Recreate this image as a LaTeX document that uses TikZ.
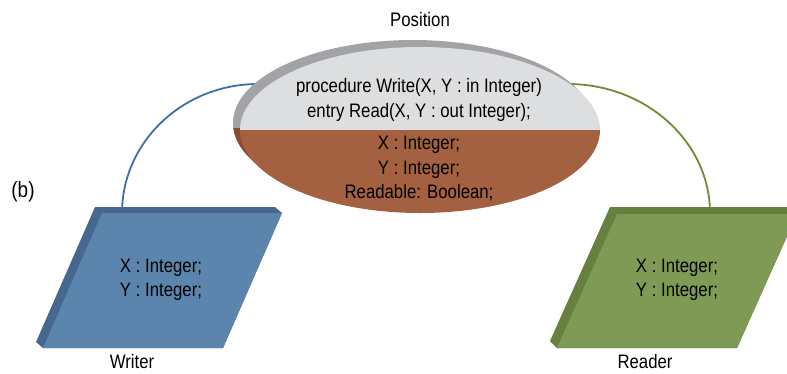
\documentclass[tikz,border=0pt]{standalone}
\usepackage{fontspec}
\setmainfont{Liberation Sans}[FakeStretch=0.86]
\usetikzlibrary{shapes.geometric}
\definecolor{ellgray}{HTML}{A2A3A7}
\definecolor{facegray}{HTML}{DDDEE0}
\definecolor{facebrown}{HTML}{A46141}
\definecolor{darkbrown}{HTML}{8A4C30}
\definecolor{bluefront}{HTML}{5C85AD}
\definecolor{blueside}{HTML}{46688F}
\definecolor{greenfront}{HTML}{7F9A55}
\definecolor{greenside}{HTML}{65803F}
\definecolor{blueline}{HTML}{3A72A8}
\definecolor{greenline}{HTML}{6F8B36}
\begin{document}
\begin{tikzpicture}[x=1pt,y=-1pt,
  txt/.style={font=\fontsize{19.5}{24.5}\selectfont, align=center, inner sep=0pt},
  conn/.style={line width=1.8pt}]
\useasboundingbox (0,0) rectangle (787,373);
\clip (0,0) rectangle (787,373);
% named anchor points
\coordinate (wport) at (122,213);
\coordinate (rport) at (710,213);
\coordinate (pl) at (258,84);
\coordinate (pr) at (568,84);
% connectors
\draw[conn, blueline] (wport) .. controls (122,142) and (183,84) .. (pl);
\draw[conn, greenline] (pr) .. controls (646,84) and (710,142) .. (rport);
% Position ellipse (3D)
\fill[ellgray] (413,123) ellipse [x radius=180, y radius=83];
\begin{scope}
  \clip (200,128) rectangle (640,240);
  \fill[darkbrown] (413,123) ellipse [x radius=180, y radius=83];
\end{scope}
\begin{scope}
  \clip (200,30) rectangle (640,130);
  \fill[facegray] (420,130) ellipse [x radius=180, y radius=83];
\end{scope}
\begin{scope}
  \clip (200,130) rectangle (640,240);
  \fill[facebrown] (420,130) ellipse [x radius=180, y radius=83];
\end{scope}
\node[ellipse, minimum width=360pt, minimum height=166pt, inner sep=0pt] (pos) at (420,130) {};
\node[txt] (ops) at (419,100) {procedure Write(X, Y : in Integer)\\entry Read(X, Y : out Integer);};
\node[txt] (vars) at (419,169) {X : Integer;\\Y : Integer;\\Readable: Boolean;};
\node[txt] (poslabel) at (420,20) {Position};
% Writer
\fill[blueside] (95,207) -- (275,207) -- (282,213) -- (223,348) -- (43,348) -- (36,342) -- cycle;
\fill[bluefront] (102,213) -- (282,213) -- (223,348) -- (43,348) -- cycle;
\node[txt] (writer) at (161,280) {X : Integer;\\Y : Integer;};
\node[txt] (writerlabel) at (132,362) {Writer};
% Reader
\fill[greenside] (610,207) -- (790,207) -- (797,214) -- (737,348) -- (557,348) -- (550,341) -- cycle;
\fill[greenfront] (617,214) -- (797,214) -- (737,348) -- (557,348) -- cycle;
\node[txt] (reader) at (677,280) {X : Integer;\\Y : Integer;};
\node[txt] (readerlabel) at (645,362) {Reader};
% (b)
\node[txt, font=\fontsize{22}{26}\selectfont] (b) at (23,192) {(b)};
\end{tikzpicture}
\end{document}
